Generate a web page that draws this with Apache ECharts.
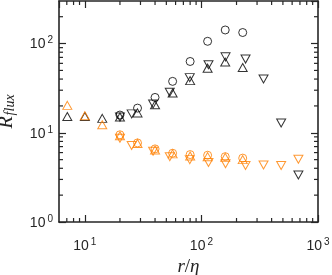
<!DOCTYPE html>
<html><head><meta charset="utf-8">
<script src="https://cdn.jsdelivr.net/npm/echarts@6/dist/echarts.min.js"></script>
<style>html,body{margin:0;padding:0;background:#fff}#c{width:332px;height:275px}</style>
</head><body><div id="c"></div>
<script>
// ---- data ----
const xTri = [7.07, 10, 14.1, 20, 28.3, 40, 56.6, 80, 113, 160, 226];
const xCirc = [20, 28.3, 40, 56.6, 80, 113, 160, 226];
const xDown = [20, 25.2, 38.5, 53.5, 79.4, 115, 161, 239, 341, 483, 679];

const blackUp   = [15.2, 15.2, 14.5, 15.0, 16.7, 20.6, 27.9, 38.4, 53, 62, 54];
const blackCirc = [15.8, 18.9, 24.9, 37.7, 63, 106, 142, 133];
const blackDown = [15.0, 16.3, 21, 28.5, 41.5, 58, 71, 67, 40, 12.9, 3.37];

const orangeUp   = [20.3, 15.5, 12.3, 9.25, 7.6, 6.4, 5.8, 5.5, 5.4, 5.3, 5.0];
const orangeCirc = [9.5, 7.7, 6.6, 5.9, 5.7, 5.6, 5.4, 5.2];
const orangeDown = [8.7, 7.2, 6.2, 5.4, 5.0, 4.65, 4.5, 4.3, 4.35, 4.3, 5.05];

const X_MIN = 6, X_MAX = 1000, Y_MIN = 1, Y_MAX = 300;

// ---- helpers ----
const AX = '#262626', BLACK = '#000000', ORANGE = '#FF8000';
const minorX = [], minorY = [];
for (let k = 0; k <= 2; k++) for (let m = 2; m <= 9; m++) {
  const v = m * Math.pow(10, k);
  if (v > X_MIN && v < X_MAX) minorX.push(v);
  if (v > Y_MIN && v < Y_MAX) minorY.push(v);
}
const zip = (xs, ys) => xs.map((x, i) => [x, ys[i]]);
function powLabel(v) {
  const e = Math.round(Math.log10(v));
  if (Math.abs(v - Math.pow(10, e)) > 1e-6 * v) return '';
  return '{b|10}{s|' + e + '}';
}
const rich = {
  b: {fontSize: 14, fontFamily: 'Liberation Sans', color: AX, lineHeight: 16, verticalAlign: 'bottom', padding: [3, 0, 0, 0]},
  s: {fontSize: 10, fontFamily: 'Liberation Sans', color: AX, lineHeight: 10, verticalAlign: 'top', padding: [0, 0, 0, 2]}
};
const lineSty = {color: AX, width: 1.6};
const baseAxis = {type: 'log', logBase: 10, axisLine: {show: true, lineStyle: lineSty},
  axisTick: {show: true, inside: true, length: 7, lineStyle: {color: AX, width: 1.2}},
  splitLine: {show: false}, minorTick: {show: false}};

function scatter(name, xs, ys, color, symbol, rot, size) {
  return {type: 'scatter', name, data: zip(xs, ys), symbol, symbolRotate: rot, symbolSize: size,
    itemStyle: {color: 'rgba(0,0,0,0)', borderColor: color, borderWidth: 1}, silent: true};
}

const minorTickSeries = (vals, isX) => ({
  type: 'custom', silent: true, clip: false, z: 1,
  data: vals.map(v => isX ? [v, Y_MIN] : [X_MIN, v]),
  renderItem: (params, api) => {
    const L = 4;
    if (isX) {
      const v = api.value(0);
      const b = api.coord([v, Y_MIN]), t = api.coord([v, Y_MAX]);
      return {type: 'group', children: [
        {type: 'line', shape: {x1: b[0], y1: b[1], x2: b[0], y2: b[1] - L}, style: {stroke: AX, lineWidth: 1.2}},
        {type: 'line', shape: {x1: t[0], y1: t[1], x2: t[0], y2: t[1] + L}, style: {stroke: AX, lineWidth: 1.2}}]};
    } else {
      const v = api.value(1);
      const l = api.coord([X_MIN, v]), r = api.coord([X_MAX, v]);
      return {type: 'group', children: [
        {type: 'line', shape: {x1: l[0], y1: l[1], x2: l[0] + L, y2: l[1]}, style: {stroke: AX, lineWidth: 1.2}},
        {type: 'line', shape: {x1: r[0], y1: r[1], x2: r[0] - L, y2: r[1]}, style: {stroke: AX, lineWidth: 1.2}}]};
    }
  }
});

const chart = echarts.init(document.getElementById('c'), null, {renderer: 'canvas'});
chart.setOption({
  animation: false,
  backgroundColor: '#fff',
  grid: {left: 59, right: 14, top: 1, bottom: 53, containLabel: false, outerBoundsMode: 'none'},
  xAxis: [
    Object.assign({}, baseAxis, {position: 'bottom', min: X_MIN, max: X_MAX,
      name: '{i|r}{n|/}{i|η}', nameLocation: 'middle', nameGap: 31,
      nameTextStyle: {rich: {i: {fontFamily: 'Liberation Serif', fontStyle: 'italic', fontSize: 19, color: AX},
                             n: {fontFamily: 'Liberation Serif', fontSize: 19, color: AX}}},
      axisLabel: {formatter: powLabel, rich, margin: 15, showMinLabel: false, hideOverlap: false}}),
    Object.assign({}, baseAxis, {position: 'top', min: X_MIN, max: X_MAX, axisLabel: {show: false}})
  ],
  yAxis: [
    Object.assign({}, baseAxis, {position: 'left', min: Y_MIN, max: Y_MAX,
      name: '{r|R}{f|flux}', nameLocation: 'middle', nameGap: 42, nameRotate: 90,
      nameTextStyle: {rich: {r: {fontFamily: 'Liberation Serif', fontStyle: 'italic', fontSize: 20, color: AX, verticalAlign: 'top', lineHeight: 20},
                             f: {fontFamily: 'Liberation Serif', fontStyle: 'italic', fontSize: 14, color: AX, verticalAlign: 'bottom', lineHeight: 14, padding: [0, 0, 0, 1]}}},
      axisLabel: {formatter: powLabel, rich, margin: 6, showMaxLabel: false}}),
    Object.assign({}, baseAxis, {position: 'right', min: Y_MIN, max: Y_MAX, axisLabel: {show: false}})
  ],
  series: [
    minorTickSeries(minorX, true),
    minorTickSeries(minorY, false),
    scatter('bUp', xTri, blackUp, BLACK, 'triangle', 0, [9, 8]),
    scatter('bCirc', xCirc, blackCirc, BLACK, 'circle', 0, 8),
    scatter('bDown', xDown, blackDown, BLACK, 'triangle', 180, [9, 8]),
    scatter('oUp', xTri, orangeUp, ORANGE, 'triangle', 0, [9, 8]),
    scatter('oCirc', xCirc, orangeCirc, ORANGE, 'circle', 0, 8),
    scatter('oDown', xDown, orangeDown, ORANGE, 'triangle', 180, [9, 8])
  ]
});
</script></body></html>
